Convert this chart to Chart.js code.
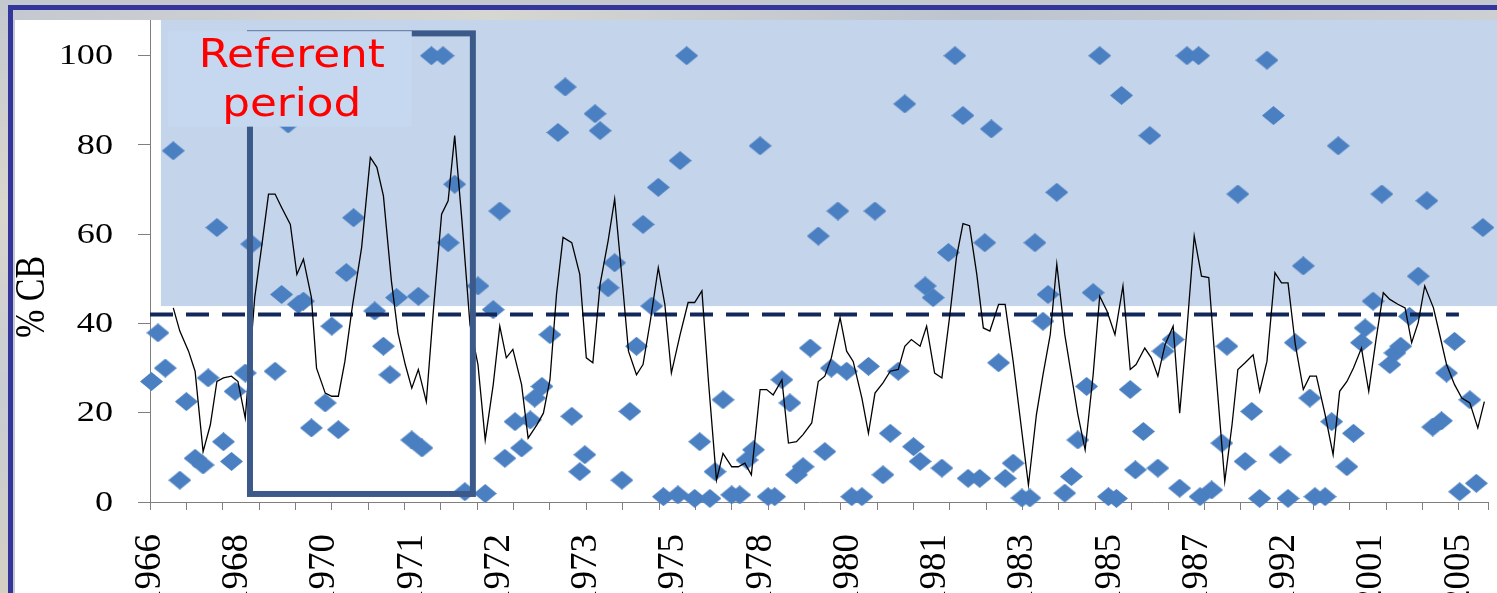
<!DOCTYPE html>
<html>
<head>
<meta charset="utf-8">
<script src="https://cdn.jsdelivr.net/npm/chart.js@4.4.1/dist/chart.umd.min.js"></script>
<style>
  html, body { margin: 0; padding: 0; }
  body {
    width: 1497px; height: 593px; overflow: hidden; position: relative;
    background: linear-gradient(180deg, #c3c8cf 0%, #d9d6ce 35%, #c8ccd3 65%, #d3cfc4 100%);
  }
  #frame {
    position: absolute; left: 8px; top: 5px; width: 1600px; height: 700px;
    border: 5px solid #34359a;
    background: linear-gradient(90deg, #c4c9d1 0%, #d6d6d2 30%, #bcc4cf 60%, #d0d3d4 100%);
  }
  #box {
    position: absolute; left: 15px; top: 20px; width: 1482px; height: 620px;
    background: #fff;
  }
</style>
</head>
<body>
<div id="frame"></div>
<div id="box"><canvas id="grafico"></canvas></div>
<script>
// tick labels (one every 12 categories)
var yearLabels = ['1966', '1968', '1970', '1971', '1972', '1973', '1975', '1978', '1980', '1981', '1983', '1985', '1987', '1992', '2001', '2005'];
var yTicks = [0, 20, 40, 60, 80, 100];

// % CB per sample (category position, value)
var cbX = [0.2, 1.1, 2.1, 3.2, 4.1, 5.0, 6.2, 7.3, 8.0, 9.2, 10.1, 11.2, 11.7, 13.1, 14.0, 17.2, 18.1, 19.0, 20.4, 21.1,
  22.2, 24.1, 25.0, 25.9, 27.0, 28.0, 30.9, 32.1, 33.0, 33.9, 36.0, 36.9, 37.4, 38.7, 40.3, 41.0, 41.9, 43.3, 45.1, 46.1,
  47.2, 48.1, 48.8, 50.2, 51.1, 52.3, 52.9, 53.9, 55.0, 56.1, 57.1, 58.0, 59.1, 59.8, 61.2, 61.9, 63.0, 63.9, 64.9, 66.0,
  66.9, 67.8, 69.0, 69.9, 70.6, 72.6, 72.9, 73.8, 74.9, 75.6, 77.0, 77.7, 78.8, 80.0, 81.1, 82.1, 83.0, 83.9, 85.0, 85.9,
  86.9, 88.0, 88.9, 89.8, 90.8, 91.9, 92.8, 93.7, 94.6, 95.8, 96.5, 97.9, 98.8, 99.7, 100.8, 101.8, 102.9, 103.8, 105.0, 105.9,
  106.6, 107.7, 108.9, 109.8, 110.7, 111.8, 112.5, 114.1, 114.8, 115.7, 116.7, 117.6, 118.7, 119.9, 121.0, 121.7, 122.8, 123.5, 124.7, 125.8,
  126.7, 127.6, 128.8, 129.7, 130.6, 131.8, 132.9, 133.6, 134.8, 135.5, 136.6, 137.5, 138.6, 139.3, 140.7, 141.6, 142.6, 144.2, 144.4, 146.0,
  147.4, 148.1, 149.6, 150.6, 151.5, 152.6, 153.6, 154.5, 155.4, 156.5, 157.5, 158.6, 159.5, 160.2, 161.6, 162.5, 163.4, 164.6, 165.5, 166.6,
  167.1, 168.2, 169.4, 170.5, 171.2, 172.0, 173.2, 174.4, 175.6, 176.4, 177.6, 178.3, 179.4, 180.1, 181.5, 182.4, 183.3];
var cbY = [27.0, 37.9, 30.0, 78.7, 4.9, 22.5, 9.8, 8.3, 27.8, 61.5, 13.5, 9.1, 24.8, 28.9, 57.8, 29.3, 46.5, 84.7, 44.3, 45.0,
  16.6, 22.2, 39.4, 16.2, 51.4, 63.7, 42.8, 34.9, 28.5, 45.8, 13.9, 46.1, 12.1, 100, 100, 58.1, 71.2, 2.3, 48.4, 1.9,
  43.1, 65.2, 9.8, 18.0, 12.1, 18.4, 23.3, 25.9, 37.5, 82.8, 93.0, 19.2, 6.8, 10.6, 87.0, 83.2, 48.0, 53.6, 4.9, 20.3,
  34.9, 62.2, 43.9, 70.5, 1.2, 1.6, 76.5, 100, 0.8, 13.5, 0.8, 6.8, 22.9, 1.6, 1.6, 9.4, 11.7, 79.8, 1.2, 1.2,
  27.4, 22.2, 6.1, 7.9, 34.5, 59.6, 11.3, 30.0, 65.2, 29.3, 1.2, 1.2, 30.4, 65.2, 6.1, 15.4, 29.3, 89.2, 12.4, 9.1,
  48.4, 45.8, 7.6, 55.9, 100, 86.6, 5.3, 5.3, 58.1, 83.6, 31.2, 5.3, 8.7, 0.9, 0.9, 58.1, 40.5, 46.5, 69.4, 2.0,
  5.7, 13.9, 25.9, 46.9, 100, 1.2, 0.8, 91.1, 25.2, 7.2, 15.8, 82.1, 7.6, 33.8, 36.4, 3.1, 100, 100, 1.2, 2.7,
  13.2, 34.9, 69.0, 9.1, 20.3, 0.8, 99.0, 86.6, 10.6, 0.8, 35.7, 52.9, 23.3, 1.2, 1.2, 18.0, 79.8, 7.9, 15.4, 35.7,
  39.0, 45.0, 69.0, 30.8, 33.4, 34.9, 41.6, 50.6, 67.5, 16.8, 18.2, 28.9, 36.0, 2.3, 22.9, 4.2, 61.5];

// black line (running mean)
var avgX = [3.2, 4.1, 5.3, 6.2, 7.3, 8.3, 9.2, 10.1, 11.2, 12.1, 13.1, 14.4, 15.4, 16.3, 17.2, 18.1, 19.3, 20.2, 21.1, 22.2,
  22.9, 24.1, 25.0, 25.9, 26.8, 27.8, 29.1, 30.3, 31.2, 32.1, 33.2, 34.1, 35.1, 36.0, 36.9, 38.0, 39.0, 40.1, 41.0, 41.9,
  42.9, 44.0, 45.1, 46.1, 47.2, 48.1, 49.0, 49.9, 51.1, 52.0, 53.2, 54.1, 55.0, 55.9, 56.8, 58.0, 59.1, 60.0, 60.9, 61.9,
  63.0, 63.9, 64.9, 65.8, 66.9, 67.8, 68.8, 69.9, 70.8, 71.7, 72.9, 74.0, 74.9, 75.9, 76.8, 77.9, 78.8, 80.0, 80.9, 81.8,
  82.7, 83.9, 84.8, 85.7, 86.9, 87.8, 88.9, 89.8, 91.0, 91.9, 92.8, 93.7, 94.9, 95.8, 96.7, 97.9, 98.8, 99.7, 100.8, 101.8,
  102.9, 103.8, 104.7, 105.9, 106.8, 107.9, 108.9, 110.0, 110.9, 111.8, 112.7, 113.7, 114.6, 115.5, 116.7, 117.6, 118.7, 120.8, 121.9, 122.8,
  123.8, 124.7, 125.8, 126.7, 127.6, 128.6, 129.7, 130.6, 131.6, 132.7, 133.8, 134.8, 135.6, 136.8, 137.7, 138.6, 139.6, 140.7, 141.6, 142.6,
  143.6, 144.6, 145.6, 146.5, 147.8, 148.8, 149.6, 150.6, 151.7, 152.6, 153.6, 154.7, 155.6, 156.5, 157.5, 158.6, 159.5, 160.4, 161.6, 162.7,
  163.6, 164.6, 165.5, 166.6, 167.6, 168.6, 169.6, 170.5, 171.6, 172.6, 173.5, 174.4, 175.3, 176.5, 177.4, 178.3, 179.4, 180.4, 181.5, 182.6, 183.5];
var avgY = [43.5, 38.3, 33.8, 29.3, 11.3, 17.3, 27.0, 27.8, 28.2, 27.0, 18.8, 45.8, 57.8, 69.0, 69.0, 66.0, 62.2, 51.0, 54.4, 45.8,
  30.0, 24.4, 23.7, 23.7, 31.5, 43.5, 57.0, 77.2, 75.0, 68.6, 49.5, 37.9, 30.8, 25.5, 29.7, 22.5, 43.5, 64.5, 67.5, 82.1,
  63.0, 39.8, 30.8, 13.9, 26.3, 39.4, 32.3, 34.2, 26.3, 14.3, 17.3, 19.9, 27.4, 46.5, 59.3, 58.1, 51.0, 32.3, 31.2, 48.8,
  58.5, 67.9, 50.3, 33.8, 28.5, 30.8, 40.5, 52.5, 44.3, 28.9, 37.5, 44.7, 44.7, 47.3, 27.0, 4.9, 10.9, 7.9, 7.9, 8.7,
  6.1, 25.2, 25.2, 24.0, 27.4, 13.2, 13.5, 15.1, 17.7, 27.0, 28.2, 32.3, 41.3, 33.8, 31.5, 23.3, 15.4, 24.4, 26.7, 29.3,
  29.7, 34.9, 36.4, 34.9, 39.4, 28.9, 27.8, 42.0, 54.8, 62.4, 61.9, 51.0, 39.0, 38.3, 44.3, 44.3, 31.5, 3.8, 19.6, 28.5,
  37.5, 53.3, 37.5, 28.5, 19.6, 11.7, 28.5, 46.1, 42.8, 37.5, 48.4, 29.7, 30.8, 34.5, 32.3, 28.2, 35.3, 39.4, 19.9, 38.7,
  59.6, 50.6, 50.3, 30.8, 4.6, 17.3, 29.7, 31.2, 33.0, 24.8, 31.5, 51.4, 49.1, 49.1, 35.3, 25.2, 28.2, 28.2, 19.6, 10.6,
  24.8, 27.0, 30.0, 34.5, 24.8, 36.4, 46.9, 45.4, 44.3, 43.5, 35.7, 40.2, 48.4, 43.5, 37.2, 30.8, 26.3, 23.3, 22.2, 16.6, 22.5];

var limite = 42;          // dashed threshold
var limiteFim = 180;
var refInicio = 13.75, refFim = 44.4;   // referent period (categories)

var serif = '"Liberation Serif", "Times New Roman", serif';
var eixoCor = '#7f7f7f';
var xMax = 184;

var tickVals = [];
for (var i = 0; i <= xMax; i++) {
	if (i % 5 === 0 || i % 12 === 0 || i === xMax) tickVals.push(i);
}

losango = (w, h, cor) => {
	var c = document.createElement('canvas');
	c.width = w; c.height = h;
	var g = c.getContext('2d');
	g.fillStyle = cor;
	g.beginPath();
	g.moveTo(w / 2, 0); g.lineTo(w, h / 2); g.lineTo(w / 2, h); g.lineTo(0, h / 2);
	g.closePath();
	g.fill();
	return c;
};

var pontosCB = cbX.map((x, k) => ({ x: x, y: cbY[k] }));
var pontosMedia = avgX.map((x, k) => ({ x: x, y: avgY[k] }));

var extras = {
	id: 'extras',
	beforeDatasetsDraw(chart) {
		var ctx = chart.ctx, sx = chart.scales.x, sy = chart.scales.y;
		// upper shaded band
		var x0 = sx.getPixelForValue(1.5);
		var yb = sy.getPixelForValue(43.9);
		ctx.save();
		ctx.fillStyle = '#c4d4ea';
		ctx.fillRect(x0, chart.chartArea.top, chart.width - x0, yb - chart.chartArea.top);
		ctx.restore();
	},
	afterDatasetsDraw(chart) {
		var ctx = chart.ctx, sx = chart.scales.x, sy = chart.scales.y;
		ctx.save();
		// referent period frame
		ctx.strokeStyle = '#3b5a8a';
		ctx.lineWidth = 6;
		var l = sx.getPixelForValue(refInicio), r = sx.getPixelForValue(refFim);
		var t = sy.getPixelForValue(105), b = sy.getPixelForValue(1.8);
		ctx.strokeRect(l, t, r - l, b - t);
		// label box
		var bl = sx.getPixelForValue(2.43), br = sx.getPixelForValue(36.0);
		var bt = sy.getPixelForValue(105.5), bb = sy.getPixelForValue(84.1);
		ctx.fillStyle = '#c6d8ef';
		ctx.fillRect(bl, bt, br - bl, bb - bt);
		ctx.fillStyle = '#ff0000';
		ctx.textAlign = 'center';
		ctx.textBaseline = 'alphabetic';
		ctx.font = '39px "DejaVu Sans", Verdana, sans-serif';
		var cx = (bl + br) / 2 + 2;
		[['Referent', 36], ['period', 85]].forEach((p) => {
			ctx.save();
			ctx.translate(cx, bt + p[1]);
			ctx.scale(1.12, 1);
			ctx.fillText(p[0], 0, 0);
			ctx.restore();
		});
		ctx.restore();
	},
	afterDraw(chart) {
		var ctx = chart.ctx, sy = chart.scales.y;
		ctx.save();
		ctx.fillStyle = '#000';
		ctx.font = '29px ' + serif;
		ctx.textAlign = 'right';
		ctx.textBaseline = 'middle';
		yTicks.forEach((v) => {
			ctx.save();
			ctx.translate(98, sy.getPixelForValue(v) + 1);
			ctx.scale(1.25, 1);
			ctx.fillText(String(v), 0, 0);
			ctx.restore();
		});
		// axis title
		ctx.font = '34px ' + serif;
		ctx.textAlign = 'center';
		ctx.translate(18, 277);
		ctx.scale(1.25, 1);
		ctx.rotate(-Math.PI / 2);
		ctx.fillText('% CB', 0, 0);
		ctx.restore();
	}
};

var grafico = new Chart(document.getElementById('grafico'), {
	type: 'scatter',
	data: {
		datasets: [{
			label: 'media',
			data: pontosMedia,
			showLine: true,
			borderColor: '#000',
			borderWidth: 1.3,
			pointRadius: 0,
			tension: 0
		}, {
			label: 'limite',
			data: [{ x: 0, y: limite }, { x: limiteFim, y: limite }],
			showLine: true,
			borderColor: '#12285a',
			borderWidth: 4,
			borderDash: [23, 13],
			pointRadius: 0
		}, {
			label: '% CB',
			data: pontosCB,
			pointStyle: losango(23, 19, '#4a7fc1'),
			clip: false
		}]
	},
	options: {
		responsive: true,
		maintainAspectRatio: false,
		animation: false,
		layout: { padding: { left: 0, right: 9, top: 0, bottom: 0 }, autoPadding: false },
		plugins: { legend: { display: false }, tooltip: { enabled: false } },
		scales: {
			x: {
				type: 'linear', min: 0, max: xMax,
				afterBuildTicks: (s) => { s.ticks = tickVals.map((v) => ({ value: v })); },
				afterFit: (s) => { s.height = 138; s.paddingLeft = 0; s.paddingRight = 0; },
				ticks: {
					autoSkip: false, minRotation: 90, maxRotation: 90, padding: 24, color: '#000',
					font: { family: serif, size: 37 },
					callback: (v) => (v % 12 === 0 ? yearLabels[v / 12] : '')
				},
				grid: {
					drawOnChartArea: false, tickLength: 8, lineWidth: 1,
					color: (c) => (c.tick && (c.tick.value % 5 === 0 || c.tick.value === xMax) ? eixoCor : 'rgba(0,0,0,0)')
				},
				border: { display: true, color: eixoCor, width: 1 }
			},
			y: {
				min: 0, max: 108,
				afterBuildTicks: (s) => { s.ticks = yTicks.map((v) => ({ value: v })); },
				afterFit: (s) => { s.width = 135; s.paddingTop = 0; s.paddingBottom = 0; },
				ticks: { color: 'rgba(0,0,0,0)', font: { size: 12 } },
				grid: { drawOnChartArea: false, tickLength: 12, color: eixoCor },
				border: { display: true, color: eixoCor, width: 1 }
			}
		}
	},
	plugins: [extras]
});
</script>
</body>
</html>
